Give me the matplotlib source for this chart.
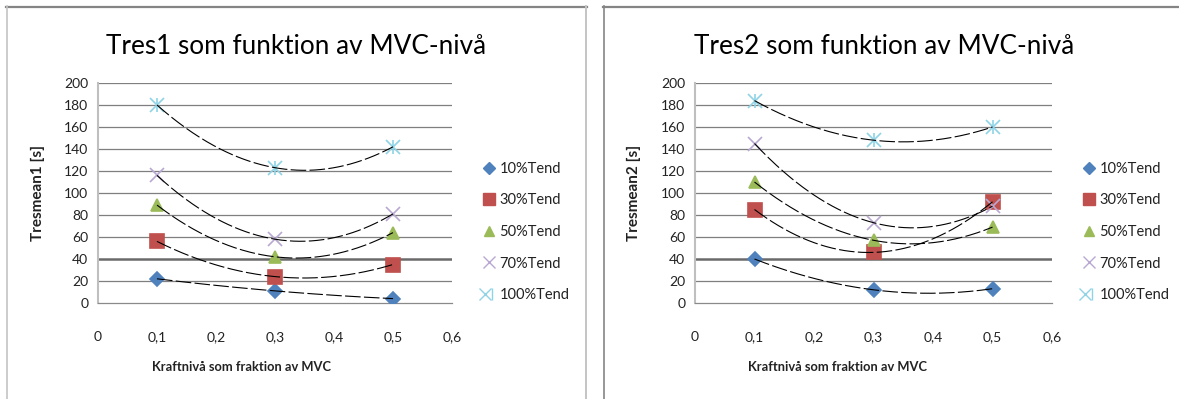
import numpy as np
import matplotlib
matplotlib.use("Agg")
import matplotlib.pyplot as plt
from matplotlib.lines import Line2D
from matplotlib.legend_handler import HandlerTuple

plt.rcParams["font.family"] = ["Lato", "DejaVu Sans"]

# Force level as a fraction of MVC
mvc_levels = [0.1, 0.3, 0.5]
series_names = ["10%Tend", "30%Tend", "50%Tend", "70%Tend", "100%Tend"]

# Tresmean1 [s]
tres1_10 = [22, 11, 4]
tres1_30 = [56, 24, 35]
tres1_50 = [89, 42, 64]
tres1_70 = [116, 58, 81]
tres1_100 = [180, 123, 142]

# Tresmean2 [s]
tres2_10 = [40, 12, 13]
tres2_30 = [85, 46, 92]
tres2_50 = [110, 57, 69]
tres2_70 = [145, 73, 88]
tres2_100 = [184, 148, 160]

x_ticks = [0, 0.1, 0.2, 0.3, 0.4, 0.5, 0.6]
x_tick_labels = ["0", "0,1", "0,2", "0,3", "0,4", "0,5", "0,6"]
y_ticks = list(range(0, 201, 20))

styles = [
    dict(marker="D", color="#4F81BD", ms=7),
    dict(marker="s", color="#C0504D", ms=10),
    dict(marker="^", color="#9BBB59", ms=9),
    dict(marker="x", color="#B9A8D2", ms=10),
    dict(marker="x", color="#8FD3E6", ms=10),
]

W, H = 1179, 399
fig = plt.figure(figsize=(W / 100, H / 100), dpi=100)


def fx(px):
    return px / W


def fy(py):
    return 1 - py / H


def panel(ax_left, ax_right, title, title_cx, ylabel, xlabel_cx, ylabel_x,
          legend_x, data):
    ax = fig.add_axes([fx(ax_left), fy(303), fx(ax_right - ax_left), (303 - 83) / H])
    xs = np.linspace(0.1, 0.5, 200)
    handles = []
    for vals, st in zip(data, styles):
        coef = np.polyfit(mvc_levels, vals, 2)
        ax.plot(xs, np.polyval(coef, xs), color="black", lw=0.8,
                dashes=(14, 3), zorder=4)
        ax.plot(mvc_levels, vals, linestyle="none", marker=st["marker"],
                color=st["color"], ms=st["ms"], mew=1.2, zorder=3)
        h = Line2D([], [], linestyle="none", marker=st["marker"],
                   color=st["color"], ms=st["ms"] * 0.85, mew=1.0)
        handles.append(h)
    # star marker for the last series: x with a vertical bar
    ax.plot(mvc_levels, data[4], linestyle="none", marker="|",
            color=styles[4]["color"], ms=10, mew=1.2, zorder=3)
    handles[4] = (handles[4], Line2D([], [], linestyle="none", marker="|",
                                     color=styles[4]["color"], ms=8.5, mew=1.0))

    ax.set_xlim(0, 0.6)
    ax.set_ylim(0, 200)
    ax.set_xticks(x_ticks)
    ax.set_xticklabels(x_tick_labels)
    ax.set_yticks(y_ticks)
    ax.tick_params(length=0, labelsize=10, colors="#222222", pad=7)
    ax.tick_params(axis="x", pad=20)
    for y in y_ticks[1:]:
        ax.axhline(y, color="#7f7f7f" if y != 40 else "#6a6a6a",
                   lw=0.9 if y != 40 else 1.8, zorder=1)
    for s in ["top", "right"]:
        ax.spines[s].set_visible(False)
    ax.spines["left"].set_color("#bfbfbf")
    ax.spines["left"].set_linewidth(1.5)
    ax.spines["bottom"].set_color("#8a8a8a")
    ax.spines["bottom"].set_linewidth(0.9)

    fig.text(fx(title_cx), fy(47), title, ha="center", va="center",
             fontsize=18.8, color="black")
    fig.text(fx(ylabel_x), fy(193), ylabel, rotation=90, ha="center",
             va="center", fontsize=11, fontweight="bold", color="#222222")
    fig.text(fx(xlabel_cx), fy(367), "Kraftnivå som fraktion av MVC",
             ha="center", va="center", fontsize=9.3, fontweight="bold",
             color="#222222")
    fig.legend(handles, series_names, loc="center left",
               bbox_to_anchor=(fx(legend_x), fy(232)), frameon=False,
               fontsize=10.5, labelspacing=1.2, handlelength=0.9,
               handletextpad=0.3, borderpad=0, borderaxespad=0,
               labelcolor="#222222",
               handler_map={tuple: HandlerTuple(ndivide=None, pad=0)})
    return ax


panel(98, 452, "Tres1 som funktion av MVC-nivå", 296, "Tresmean1 [s]", 241, 38,
      482, [tres1_10, tres1_30, tres1_50, tres1_70, tres1_100])
panel(695, 1052, "Tres2 som funktion av MVC-nivå", 884, "Tresmean2 [s]", 838,
      634, 1082, [tres2_10, tres2_30, tres2_50, tres2_70, tres2_100])

# chart frames
frame_dark = "#858585"
frame_light = "#c4c4c4"
fig.add_artist(Line2D([fx(6), fx(587)], [fy(6.5), fy(6.5)], color=frame_dark, lw=1.6))
fig.add_artist(Line2D([fx(6.5), fx(6.5)], [fy(6), fy(399)], color=frame_light, lw=1.2))
fig.add_artist(Line2D([fx(586), fx(586)], [fy(6), fy(399)], color=frame_light, lw=1.4))
fig.add_artist(Line2D([fx(603), fx(1179)], [fy(6.5), fy(6.5)], color=frame_dark, lw=1.6))
fig.add_artist(Line2D([fx(603.5), fx(603.5)], [fy(6), fy(399)], color=frame_dark, lw=1.2))

fig.savefig("out.png", dpi=100)
